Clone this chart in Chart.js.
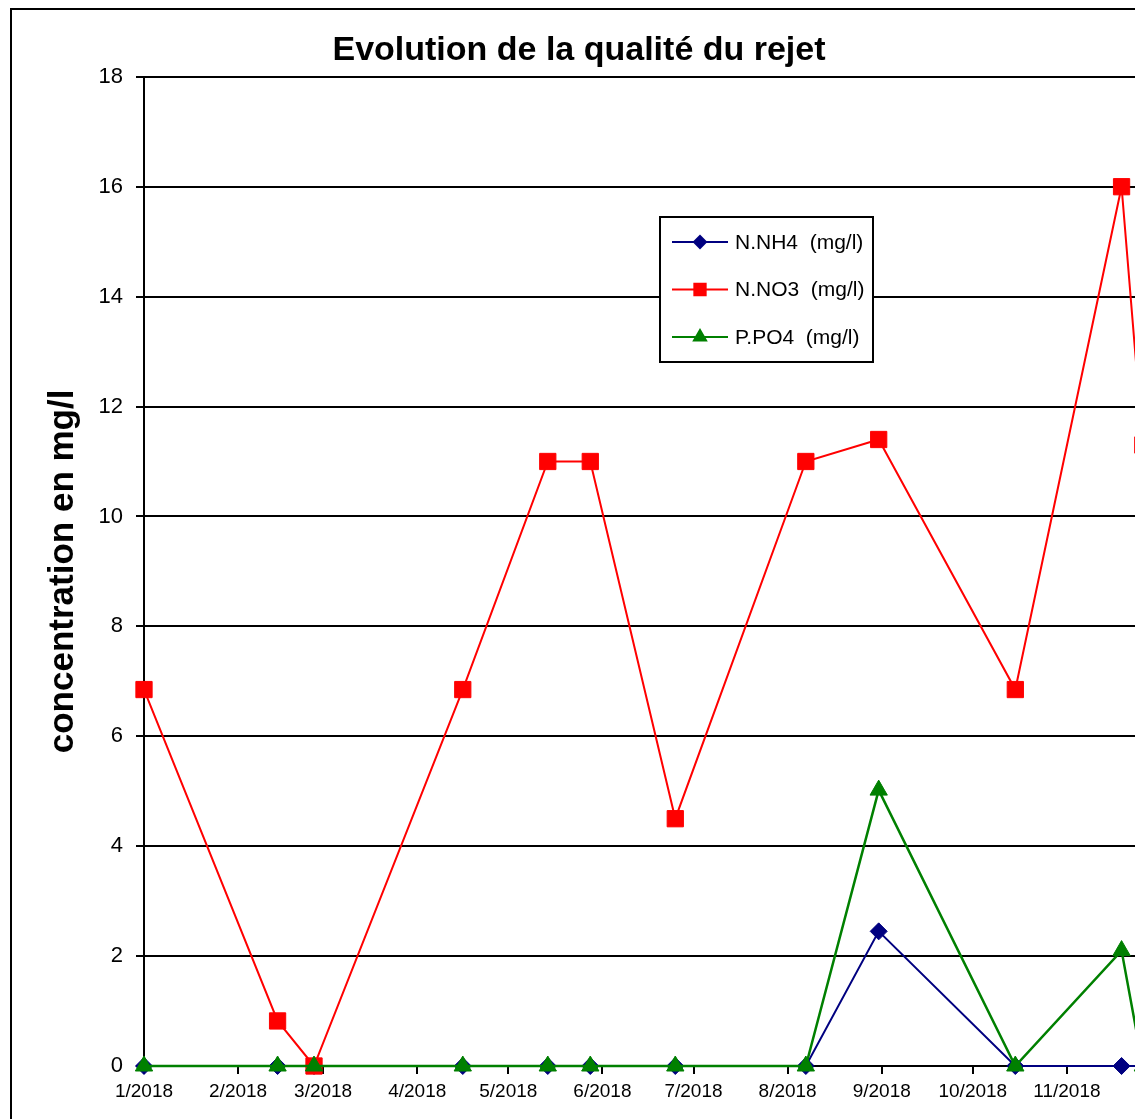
<!DOCTYPE html>
<html>
<head>
<meta charset="utf-8">
<script src="https://cdn.jsdelivr.net/npm/chart.js@4.4.1/dist/chart.umd.min.js"></script>
<style>
html, body { margin: 0; padding: 0; overflow: hidden; background: #fff; width: 1135px; height: 1119px; }
#frame { position: absolute; left: 10px; top: 8px; width: 1400px; height: 1400px; border: 2px solid #000; box-sizing: border-box; }
#chart { position: absolute; left: 0; top: 0; }
</style>
</head>
<body>
<div id="frame"></div>
<canvas id="chart" width="1180" height="1119"></canvas>
<script>
// dates des prélèvements (le dernier point est hors cadre, à droite)
const sampleDates = ['2018-01-01', '2018-02-14', '2018-02-26', '2018-04-16', '2018-05-14', '2018-05-28',
                     '2018-06-25', '2018-08-07', '2018-08-31', '2018-10-15', '2018-11-19', '2018-11-26'];
const nh4 = [0, 0, 0, 0, 0, 0, 0, 0, 2.45, 0, 0, 0];
const no3 = [6.85, 0.82, 0, 6.85, 11, 11, 4.5, 11, 11.4, 6.85, 16, 11.3];
const po4 = [0, 0, 0, 0, 0, 0, 0, 0, 5.02, 0, 2.1, 0];

const seriesLabels = ['N.NH4  (mg/l)', 'N.NO3  (mg/l)', 'P.PO4  (mg/l)'];
const monthTicks = ['2018-01-01', '2018-02-01', '2018-03-01', '2018-04-01', '2018-05-01', '2018-06-01',
                    '2018-07-01', '2018-08-01', '2018-09-01', '2018-10-01', '2018-11-01'];
const axisStart = '2018-01-01';
const axisEnd = '2018-12-01';
const yMin = 0, yMax = 18, yStep = 2;

const SANS = "'Liberation Sans', Arial, sans-serif";
const DAY = 86400000;
function dayOf(s) {
    return (Date.parse(s + 'T00:00:00Z') - Date.parse(axisStart + 'T00:00:00Z')) / DAY;
}
function monthLabel(v) {
    const d = new Date(Date.parse(axisStart + 'T00:00:00Z') + v * DAY);
    return (d.getUTCMonth() + 1) + '/' + d.getUTCFullYear();
}
function toPoints(values) {
    return values.map((v, i) => ({ x: dayOf(sampleDates[i]), y: v }));
}

// légende encadrée dans la zone de tracé
const legendBox = {
    id: 'legendBox',
    afterDatasetsDraw(chart) {
        const ctx = chart.ctx;
        ctx.save();
        ctx.fillStyle = '#fff';
        ctx.fillRect(660, 217, 213, 145);
        ctx.lineWidth = 2;
        ctx.strokeStyle = '#000';
        ctx.strokeRect(660, 217, 213, 145);
        chart.data.datasets.forEach((ds, i) => {
            const y = 242 + i * 47.5;
            ctx.strokeStyle = ds.borderColor;
            ctx.fillStyle = ds.borderColor;
            ctx.lineWidth = 2;
            ctx.beginPath();
            ctx.moveTo(672, y);
            ctx.lineTo(728, y);
            ctx.stroke();
            Chart.helpers.drawPoint(ctx, { pointStyle: ds.pointStyle, radius: ds.legendRadius, borderWidth: 1, rotation: 0 }, 700, y);
            ctx.fillStyle = '#000';
            ctx.font = '21px ' + SANS;
            ctx.textBaseline = 'middle';
            ctx.textAlign = 'left';
            ctx.fillText(ds.label, 735, y + 1);
        });
        ctx.restore();
    }
};

const ctx = document.getElementById('chart').getContext('2d');
const chart = new Chart(ctx, {
    type: 'line',
    data: {
        datasets: [
            {
                label: seriesLabels[0],
                data: toPoints(nh4),
                borderColor: '#000080',
                backgroundColor: '#000080',
                borderWidth: 2,
                pointStyle: 'rectRot',
                pointRadius: 8.5,
                pointBorderWidth: 1,
                legendRadius: 6,
                clip: false,
                order: 3
            },
            {
                label: seriesLabels[1],
                data: toPoints(no3),
                borderColor: '#FF0000',
                backgroundColor: '#FF0000',
                borderWidth: 2,
                pointStyle: 'rect',
                pointRadius: 11.5,
                pointBorderWidth: 1,
                legendRadius: 8,
                clip: false,
                order: 2
            },
            {
                label: seriesLabels[2],
                data: toPoints(po4),
                borderColor: '#008000',
                backgroundColor: '#008000',
                borderWidth: 2.5,
                pointStyle: 'triangle',
                pointRadius: 10,
                pointBorderWidth: 1,
                legendRadius: 7,
                clip: false,
                order: 1
            }
        ]
    },
    options: {
        responsive: false,
        animation: false,
        layout: { padding: { left: 0, right: 22, top: 0, bottom: 0 } },
        scales: {
            x: {
                type: 'linear',
                min: dayOf(axisStart),
                max: dayOf(axisEnd),
                afterBuildTicks: (scale) => {
                    scale.ticks = monthTicks.map(m => ({ value: dayOf(m) }));
                },
                afterFit: (scale) => { scale.height = 53; },
                grid: { display: true, drawOnChartArea: false, drawTicks: true, tickLength: 8, color: '#000', lineWidth: 2 },
                border: { display: true, color: '#000', width: 2 },
                ticks: {
                    autoSkip: false,
                    maxRotation: 0,
                    padding: 6,
                    color: '#000',
                    font: { family: SANS, size: 19 },
                    callback: (v) => monthLabel(v)
                }
            },
            y: {
                min: yMin,
                max: yMax,
                afterFit: (scale) => { scale.width = 144; },
                grid: { color: '#000', lineWidth: 2, tickLength: 8 },
                border: { display: true, color: '#000', width: 2 },
                ticks: {
                    stepSize: yStep,
                    padding: 13,
                    color: '#000',
                    font: { family: SANS, size: 22 }
                },
                title: {
                    display: true,
                    text: 'concentration en mg/l',
                    color: '#000',
                    padding: { top: 42, bottom: 0 },
                    font: { family: SANS, size: 35, weight: 'bold' }
                }
            }
        },
        plugins: {
            legend: { display: false },
            tooltip: { enabled: false },
            title: {
                display: true,
                text: 'Evolution de la qualité du rejet',
                color: '#000',
                padding: { top: 30, bottom: 6 },
                font: { family: SANS, size: 34, weight: 'bold' }
            }
        }
    },
    plugins: [legendBox]
});
</script>
</body>
</html>
